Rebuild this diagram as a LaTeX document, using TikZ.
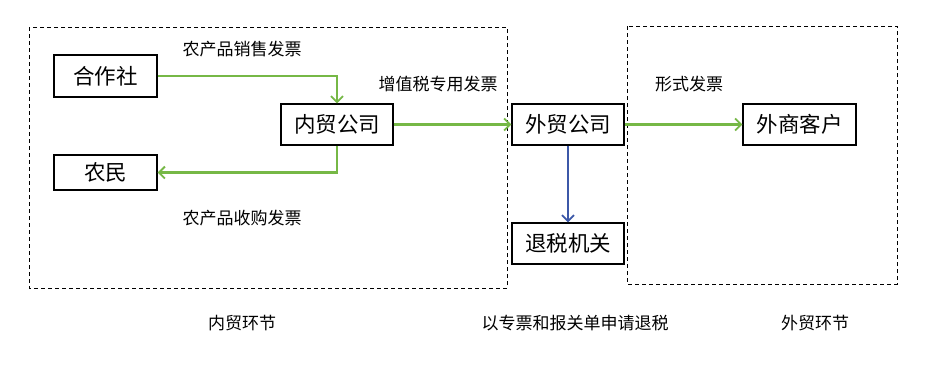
\documentclass[tikz,border=0pt]{standalone}
\usepackage{fontspec}
\setmainfont{Noto Sans CJK SC}
\usetikzlibrary{arrows.meta}
\definecolor{arrgreen}{RGB}{118,184,70}
\definecolor{arrblue}{RGB}{60,88,168}
\begin{document}
\begin{tikzpicture}[x=1pt,y=-1pt,
  box/.style={draw=black,line width=1.4pt,minimum height=41pt,inner sep=0pt,font=\fontsize{21.5}{24}\selectfont},
  lbl/.style={font=\fontsize{17}{20}\selectfont,inner sep=0pt},
  zone/.style={draw=black,line width=1pt,dash pattern=on 4pt off 3pt},
  garrow/.style={draw=arrgreen,line width=2.2pt,-{Straight Barb[length=6pt,width=12pt,line width=1.8pt]}},
  barrow/.style={draw=arrblue,line width=2.2pt,-{Straight Barb[length=6pt,width=12pt,line width=1.8pt]}}]
\useasboundingbox (0,0) rectangle (937,370);
\fill[white] (0,0) rectangle (937,370);
% zones
\draw[zone] (29,27) rectangle (507,288);
\draw[zone] (627,26) rectangle (897,284);
% boxes
\node[box,minimum width=103pt,minimum height=42pt] (coop) at (105.5,76) {合作社};
\node[box,minimum width=112pt] (inner) at (337,124.5) {内贸公司};
\node[box,minimum width=103pt,minimum height=35pt] (farmer) at (105.5,172.5) {农民};
\node[box,minimum width=112pt] (foreign) at (568,124.5) {外贸公司};
\node[box,minimum width=112pt] (tax) at (568,243.5) {退税机关};
\node[box,minimum width=113pt] (client) at (799.5,124.5) {外商客户};
% labels
\node[lbl] (l1) at (242,49) {农产品销售发票};
\node[lbl] (l2) at (438,84) {增值税专用发票};
\node[lbl] (l3) at (689,84) {形式发票};
\node[lbl] (l4) at (242,218) {农产品收购发票};
\node[lbl] (l5) at (242,323) {内贸环节};
\node[lbl] (l6) at (575,323) {以专票和报关单申请退税};
\node[lbl] (l7) at (815,323) {外贸环节};
% arrows
\draw[garrow] (coop.east) -| (inner.north);
\draw[garrow] (inner.south) |- (farmer.east);
\draw[garrow] (inner.east) -- (foreign.west);
\draw[garrow] (foreign.east) -- (client.west);
\draw[barrow] (foreign.south) -- (tax.north);
\end{tikzpicture}
\end{document}
